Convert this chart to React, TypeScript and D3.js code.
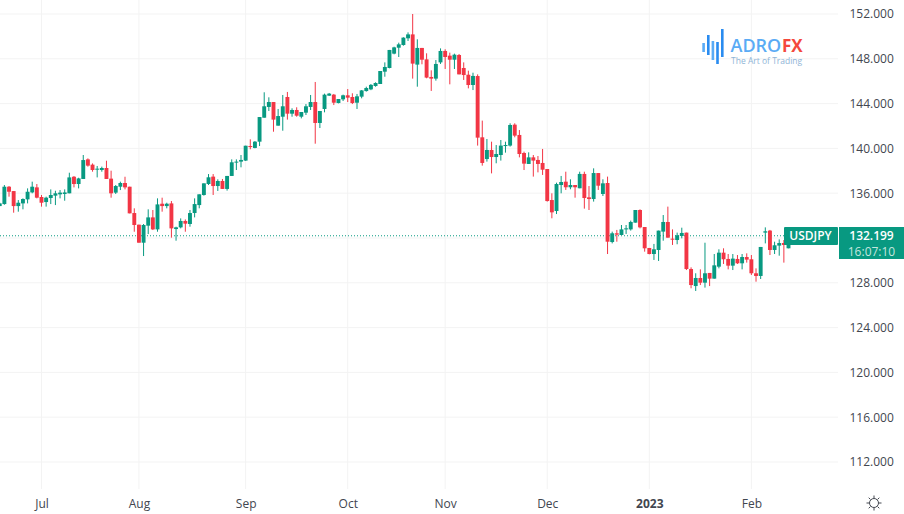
import React, { useEffect, useRef } from "react";
import * as d3 from "d3";

const symbol = "USDJPY";
const lastPrice = 132.199;
const countdown = "16:07:10";

// daily candles, first one is 9 sessions before Jul 1
const firstIndex = -9;
const opens = [
  134.85,135.03,136.58,136.19,134.85,135.09,135.45,136.07,136.52,
  135.66,135.21,135.57,135.78,135.90,135.93,135.99,137.47,136.82,137.27,
  139.02,138.55,138.13,138.07,138.25,137.30,136.05,136.58,136.91,136.58,
  134.23,133.19,131.58,133.10,133.84,132.77,135.06,134.85,135.09,132.80,
  132.95,133.52,133.25,134.23,134.94,135.84,136.82,137.48,136.64,137.09,
  136.38,137.54,138.73,138.82,138.91,140.21,140.04,140.60,142.74,143.70,
  144.14,142.03,142.83,144.59,143.10,143.43,142.83,143.19,143.70,144.14,
  142.27,143.52,144.71,144.80,144.05,144.38,144.74,144.59,144.08,144.62,
  145.12,145.27,145.57,145.75,146.85,147.18,148.46,148.99,149.23,149.83,
  150.18,147.48,148.97,147.95,146.38,146.23,147.68,148.70,148.28,147.92,
  148.34,147.18,146.58,145.66,146.46,140.99,139.05,139.86,139.23,139.41,
  140.21,140.25,142.12,141.20,139.59,138.61,139.20,138.97,138.70,138.16,
  135.39,134.41,136.73,137.03,136.53,136.73,136.44,137.72,135.63,135.48,
  137.80,135.93,136.91,131.64,132.42,132.27,132.77,132.77,133.37,134.50,
  132.98,131.11,130.57,130.93,132.57,133.43,131.94,131.82,132.18,132.48,
  129.23,127.71,128.43,128.01,128.88,128.37,129.44,130.69,130.13,129.53,
  130.13,129.74,130.30,130.10,128.85,128.61,132.48,132.66,130.93,131.32,131.55,131.08,
];
const closes = [
  135.09,136.58,136.13,134.85,135.15,135.48,136.13,136.58,135.60,
  135.15,135.60,135.84,135.99,136.05,136.07,137.41,136.82,137.32,138.96,
  138.46,138.07,138.19,138.25,137.27,135.99,136.64,136.91,136.52,134.20,
  133.16,131.58,133.16,133.84,132.77,135.00,134.85,135.06,132.86,132.95,
  133.52,133.28,134.23,135.03,135.90,136.88,137.42,136.64,137.09,136.38,
  137.54,138.76,138.82,138.97,140.24,140.15,140.60,142.80,143.76,144.14,
  142.57,142.89,143.76,143.10,143.43,142.92,143.25,143.76,144.14,142.27,
  143.34,144.80,144.89,144.08,144.41,144.74,144.53,144.05,144.65,145.18,
  145.39,145.67,145.84,146.91,147.27,148.79,149.02,149.29,149.89,150.18,
  147.57,148.97,147.92,146.32,146.23,147.54,148.70,148.16,147.92,148.37,
  146.61,146.55,145.66,146.47,140.96,138.70,139.86,139.23,139.50,140.25,
  140.30,142.09,141.14,139.50,138.64,139.20,138.91,138.61,138.10,135.30,
  134.29,136.82,137.00,136.53,136.73,136.53,137.72,135.57,135.48,137.80,
  136.67,136.88,131.67,132.42,132.30,132.77,132.86,133.43,134.50,132.95,
  131.08,130.57,130.99,132.66,133.43,132.03,131.85,132.24,132.45,129.23,
  127.80,128.43,128.01,128.85,128.37,129.56,130.69,130.10,129.53,130.16,
  129.74,130.30,130.07,128.85,128.61,131.20,132.60,130.93,131.35,131.55,131.38,132.199,
];
const highs = [
  135.15,136.73,136.64,136.19,135.39,135.54,136.43,137.03,136.82,
  135.84,135.69,136.34,136.22,136.28,136.34,137.83,137.53,137.38,139.41,
  139.11,138.66,138.43,138.37,138.90,138.01,136.73,137.03,137.47,136.58,
  134.65,133.19,133.25,134.56,134.50,135.54,135.60,135.15,135.30,133.01,
  133.75,133.66,134.50,135.54,135.90,136.88,137.71,137.71,137.24,137.27,
  137.54,139.02,139.02,139.41,140.24,140.81,140.66,142.80,145.01,144.56,
  144.14,143.52,144.77,145.04,143.58,143.67,143.25,143.96,144.77,145.93,
  143.34,144.89,144.95,144.86,144.41,144.80,145.30,144.92,144.86,145.21,
  145.51,145.75,145.90,146.91,147.68,148.79,149.08,149.44,149.92,150.36,
  152.00,149.74,148.97,148.49,146.97,147.89,148.93,148.85,148.55,148.46,
  148.43,147.68,146.94,146.76,146.61,142.48,140.84,140.60,140.30,140.75,
  140.60,142.24,142.24,141.64,139.71,139.65,139.41,139.32,139.95,138.16,
  135.99,136.94,137.54,137.92,137.24,136.73,137.92,137.92,136.64,138.22,
  137.80,137.24,137.48,132.57,132.72,133.16,133.16,133.55,134.50,134.56,
  132.98,131.11,131.47,132.66,134.05,134.80,132.77,132.48,132.92,132.48,
  129.38,128.85,129.20,131.58,128.88,130.57,130.99,131.08,130.57,130.57,
  130.48,130.57,130.63,130.48,129.29,131.20,132.95,132.72,131.67,131.88,131.82,132.30,
];
const lows = [
  134.85,134.97,135.69,134.26,134.35,134.56,135.09,135.99,135.54,
  134.80,134.80,135.03,134.94,135.54,135.33,135.99,136.52,136.43,137.27,
  138.37,137.92,137.41,137.92,137.27,135.60,135.93,136.28,136.34,134.20,
  132.56,131.58,130.39,132.35,132.71,132.56,134.35,134.65,132.03,131.76,
  132.86,132.56,133.01,133.84,134.65,135.78,136.73,135.84,136.20,136.38,
  136.23,137.54,138.07,138.31,138.88,139.92,140.01,140.21,142.74,143.34,
  141.49,142.03,141.58,142.57,142.83,142.83,142.68,142.98,143.43,140.42,
  141.82,143.22,144.68,143.87,144.02,144.23,144.14,143.96,143.52,144.47,
  145.07,145.20,145.51,145.75,146.40,147.15,148.40,148.16,149.17,149.59,
  146.23,145.51,147.51,146.26,145.13,146.05,147.54,147.09,145.72,147.09,
  146.61,146.11,145.36,145.21,140.25,138.46,138.82,137.77,138.67,138.91,
  139.62,140.16,140.99,139.20,138.07,138.61,137.48,137.86,137.63,135.25,
  133.76,134.14,135.99,136.29,136.35,135.60,136.44,134.62,134.50,135.25,
  136.29,135.75,130.57,131.52,131.67,132.27,132.36,132.66,133.37,132.86,
  130.78,130.54,130.04,129.95,131.76,132.03,131.38,131.44,131.97,129.14,
  127.51,127.27,127.80,127.57,127.71,128.37,129.29,129.68,129.20,129.14,
  129.68,129.20,129.80,128.70,128.10,128.34,131.52,130.48,130.57,130.42,129.80,131.08,
];

const priceTicks = [152, 148, 144, 140, 136, 128, 124, 120, 116, 112];
const monthLabels = ["Jul", "Aug", "Sep", "Oct", "Nov", "Dec", "2023", "Feb"];
const monthIndexes = [0, 21, 44, 66, 87, 109, 131, 153];

const width = 904;
const height = 514;
const plotRight = 838;
const plotBottom = 489;
const fontFamily = "'Open Sans', sans-serif";
const upColor = "#089981";
const downColor = "#f23645";
const gridColor = "#f3f3f3";

export default function App() {
  const ref = useRef<SVGSVGElement>(null);

  useEffect(() => {
    const svg = d3.select(ref.current);
    svg.selectAll("*").remove();

    const x = d3.scaleLinear().domain([firstIndex, 161]).range([-0.26, 788.5]);
    const y = d3.scaleLinear().domain([152, 112]).range([14, 462]);
    const bodyWidth = 3.9;

    const candles = opens.map((o, i) => ({
      index: firstIndex + i,
      open: o,
      close: closes[i],
      high: highs[i],
      low: lows[i],
    }));
    const colorOf = (d: { open: number; close: number }) =>
      d.close >= d.open ? upColor : downColor;

    // grid
    svg.append("g")
      .selectAll("line")
      .data([...priceTicks, 132])
      .enter()
      .append("line")
      .attr("x1", 0)
      .attr("x2", plotRight)
      .attr("y1", (d) => y(d))
      .attr("y2", (d) => y(d))
      .attr("stroke", gridColor);
    svg.append("g")
      .selectAll("line")
      .data(monthIndexes)
      .enter()
      .append("line")
      .attr("x1", (d) => x(d))
      .attr("x2", (d) => x(d))
      .attr("y1", 0)
      .attr("y2", plotBottom)
      .attr("stroke", gridColor);

    // last price dotted line, under the candles
    svg.append("line")
      .attr("x1", 0)
      .attr("x2", plotRight)
      .attr("y1", y(lastPrice))
      .attr("y2", y(lastPrice))
      .attr("stroke", upColor)
      .attr("stroke-dasharray", "1 2");

    // wicks
    svg.append("g")
      .selectAll("line")
      .data(candles)
      .enter()
      .append("line")
      .attr("x1", (d) => x(d.index))
      .attr("x2", (d) => x(d.index))
      .attr("y1", (d) => y(d.high))
      .attr("y2", (d) => y(d.low))
      .attr("stroke", colorOf)
      .attr("stroke-width", 1);

    // bodies
    svg.append("g")
      .selectAll("rect")
      .data(candles)
      .enter()
      .append("rect")
      .attr("x", (d) => x(d.index) - bodyWidth / 2)
      .attr("width", bodyWidth)
      .attr("y", (d) => y(Math.max(d.open, d.close)))
      .attr("height", (d) => Math.max(1, Math.abs(y(d.open) - y(d.close))))
      .attr("fill", colorOf);

    // price axis
    const yAxis = svg.append("g")
      .attr("transform", "translate(849.5,0)")
      .call(d3.axisRight(y).tickValues(priceTicks).tickFormat(d3.format(".3f")).tickSize(0).tickPadding(0));
    yAxis.select(".domain").remove();
    yAxis.selectAll("text")
      .attr("fill", "#42464f")
      .style("font-family", fontFamily)
      .style("font-size", "12px");

    // time axis
    const xAxis = svg.append("g")
      .attr("transform", "translate(0,499)")
      .call(d3.axisBottom(x).tickValues(monthIndexes).tickFormat((_, i) => monthLabels[i]).tickSize(0).tickPadding(0));
    xAxis.select(".domain").remove();
    xAxis.selectAll("text")
      .attr("fill", "#42464f")
      .style("font-family", fontFamily)
      .style("font-size", "12px")
      .style("font-weight", (_, i) => (monthLabels[i] === "2023" ? 700 : 400));

    // price labels
    const labels = svg.append("g").style("font-family", fontFamily);
    labels.append("rect").attr("x", 784).attr("y", 227).attr("width", 54).attr("height", 18).attr("rx", 1).attr("fill", upColor);
    labels.append("text").attr("x", 810.5).attr("y", 240).attr("text-anchor", "middle")
      .attr("fill", "#fff").style("font-size", "12px").style("font-weight", 600).text(symbol);
    labels.append("rect").attr("x", 839).attr("y", 227).attr("width", 65).attr("height", 32).attr("fill", upColor);
    labels.append("text").attr("x", 871.5).attr("y", 240).attr("text-anchor", "middle")
      .attr("fill", "#fff").style("font-size", "12px").style("font-weight", 600).text(d3.format(".3f")(lastPrice));
    labels.append("text").attr("x", 871.5).attr("y", 256).attr("text-anchor", "middle")
      .attr("fill", "#c4e6df").style("font-size", "12px").text(countdown);

    // watermark logo
    const logo = svg.append("g");
    const logoBars = [
      { x: 702.3, y: 43, h: 9, c: "#5aabf5" },
      { x: 707, y: 35, h: 20, c: "#2a8cf0" },
      { x: 711.6, y: 41, h: 19, c: "#5aabf5" },
      { x: 716.2, y: 42, h: 22, c: "#2a8cf0" },
      { x: 721, y: 29, h: 28, c: "#2a8cf0" },
    ];
    logo.selectAll("rect")
      .data(logoBars)
      .enter()
      .append("rect")
      .attr("x", (d) => d.x)
      .attr("y", (d) => d.y)
      .attr("width", 2.6)
      .attr("height", (d) => d.h)
      .attr("fill", (d) => d.c);
    logo.append("text").attr("x", 730.5).attr("y", 52)
      .attr("fill", "#5aabf5").style("font-family", fontFamily).style("font-size", "18px").style("font-weight", 600).text("ADRO");
    logo.append("text").attr("x", 782).attr("y", 52)
      .attr("fill", "#f4483c").style("font-family", fontFamily).style("font-size", "17px").style("font-weight", 700).text("FX");
    logo.append("text").attr("x", 731).attr("y", 64)
      .attr("fill", "#8fb4d6").style("font-family", fontFamily).style("font-size", "8.5px").text("The Art of Trading");

    // settings icon, sun shape
    const sun = svg.append("g")
      .attr("transform", "translate(874,503)")
      .attr("fill", "none")
      .attr("stroke", "#42464f");
    sun.append("circle").attr("r", 4.5);
    d3.range(8).forEach((k) => {
      const a = (k * Math.PI) / 4;
      sun.append("line")
        .attr("x1", Math.cos(a) * 5)
        .attr("y1", Math.sin(a) * 5)
        .attr("x2", Math.cos(a) * 7.5)
        .attr("y2", Math.sin(a) * 7.5);
    });
  }, []);

  return (
    <svg
      ref={ref}
      width={width}
      height={height}
      style={{ position: "absolute", left: 0, top: 0, background: "#fff" }}
    />
  );
}
